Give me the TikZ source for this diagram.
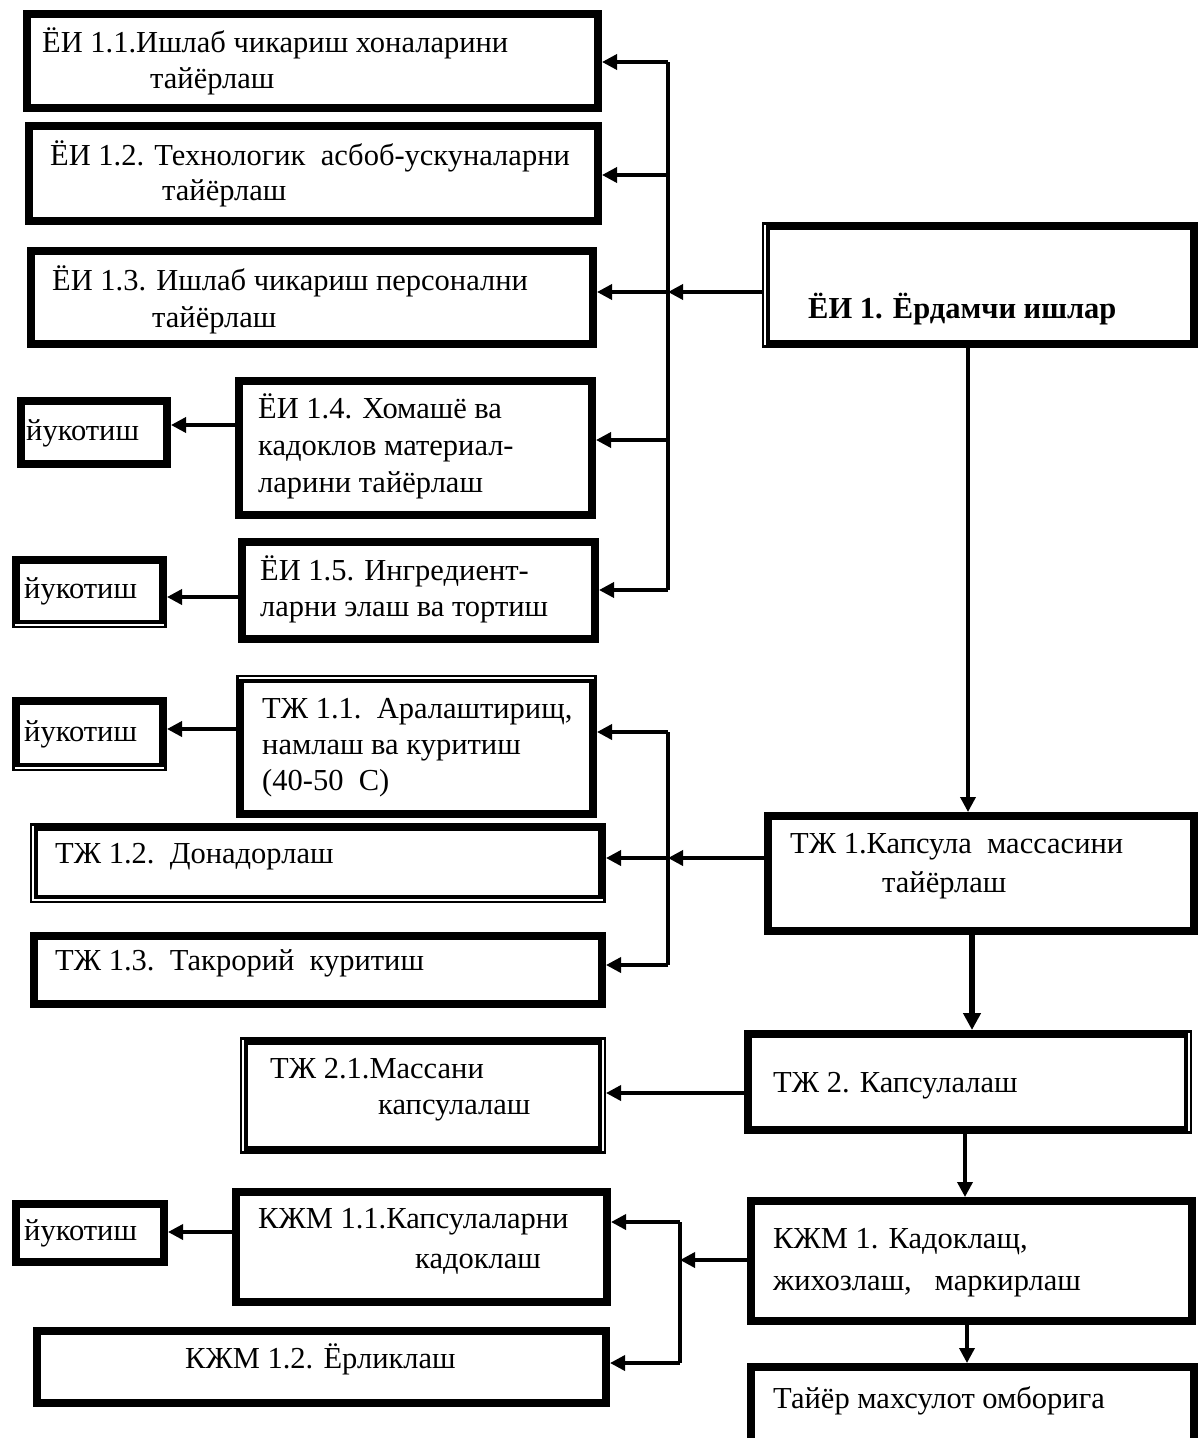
\documentclass[tikz,border=0pt]{standalone}
\usepackage{fontspec}
\setmainfont{Liberation Serif}
\usetikzlibrary{arrows.meta}
\tikzset{
  x=1pt,y=-1pt,
  bx/.style={draw, line width=#1, inner sep=0pt, rectangle},
  txt/.style={anchor=base west, inner sep=0pt, font=\fontsize{30.5}{36}\selectfont},
  btxt/.style={txt, font=\fontsize{30.5}{36}\selectfont\bfseries},
  conn/.style={line width=3.5pt},
  arr/.style={line width=3.5pt, -{Triangle[length=15pt,width=15pt]}},
  tarr/.style={line width=6pt, -{Triangle[length=17pt,width=17pt]}},
  dbl/.style={draw=white, line width=1.5pt},
}
\newcommand\bxx[6][8]{\node[bx=#1pt, minimum width={#4-#2-#1}, minimum height={#5-#3-#1}] (#6) at ({(#2+#4)/2},{(#3+#5)/2}) {};}
\begin{document}
\begin{tikzpicture}
\useasboundingbox[fill=white] (0,0) rectangle (1198,1438);
% boxes
\bxx{23}{10}{602}{112}{b11}
\bxx{25}{122}{602}{225}{b12}
\bxx{27}{247}{597}{348}{b13}
\bxx{762}{222}{1198}{348}{b1}
\bxx{235}{377}{596}{519}{b14}
\bxx{17}{397}{171}{468}{y1}
\bxx{238}{538}{599}{643}{b15}
\bxx{12}{556}{167}{628}{y2}
\bxx{236}{675}{597}{818}{t11}
\bxx{12}{697}{167}{771}{y3}
\bxx{30}{823}{606}{903}{t12}
\bxx{30}{932}{606}{1008}{t13}
\bxx{764}{812}{1198}{935}{t1}
\bxx{744}{1030}{1192}{1134}{t2}
\bxx{240}{1037}{606}{1154}{t21}
\bxx{747}{1197}{1196}{1325}{k1}
\bxx{232}{1188}{611}{1306}{k11}
\bxx{12}{1200}{168}{1266}{y4}
\bxx{33}{1327}{610}{1407}{k12}
\bxx{747}{1363}{1198}{1448}{tm}
% double-rule edges
\draw[dbl] ([xshift=3pt,yshift=-3pt]b1.north west) -- ([xshift=3pt,yshift=3pt]b1.south west);
\draw[dbl] ([xshift=3pt,yshift=-3pt]t12.north west) -- ([xshift=3pt,yshift=3pt]t12.south west) -- ([xshift=-3pt,yshift=3pt]t12.south east);
\draw[dbl] ([xshift=3pt,yshift=-3pt]t21.north west) -- ([xshift=3pt,yshift=3pt]t21.south west);
\draw[dbl] ([xshift=-3pt,yshift=-3pt]t21.north east) -- ([xshift=-3pt,yshift=3pt]t21.south east);
\draw[dbl] ([xshift=-3pt,yshift=-3pt]t2.north east) -- ([xshift=-3pt,yshift=3pt]t2.south east);
\draw[dbl] ([xshift=3pt,yshift=-3pt]t11.north west) -- ([xshift=-3pt,yshift=-3pt]t11.north east);
\draw[dbl] ([xshift=3pt,yshift=3pt]y2.south west) -- ([xshift=-3pt,yshift=3pt]y2.south east);
\draw[dbl] ([xshift=3pt,yshift=3pt]y3.south west) -- ([xshift=-3pt,yshift=3pt]y3.south east);
% texts
\node[txt] (x11a) at (42,52) {ЁИ 1.1.Ишлаб чикариш хоналарини};
\node[txt] (x11b) at (150,88) {тайёрлаш};
\node[txt] (x12a) at (50,165) {ЁИ 1.2. Технологик\ \ асбоб-ускуналарни};
\node[txt] (x12b) at (162,200) {тайёрлаш};
\node[txt] (x13a) at (52,290) {ЁИ 1.3. Ишлаб чикариш персонални};
\node[txt] (x13b) at (152,327) {тайёрлаш};
\node[btxt] (x1) at (808,318) {ЁИ 1. Ёрдамчи ишлар};
\node[txt] (x14a) at (258,418) {ЁИ 1.4. Хомашё ва};
\node[txt] (x14b) at (258,455) {кадоклов материал-};
\node[txt] (x14c) at (258,492) {ларини тайёрлаш};
\node[txt] (xy1) at (26,440) {йукотиш};
\node[txt] (x15a) at (260,580) {ЁИ 1.5. Ингредиент-};
\node[txt] (x15b) at (260,616) {ларни элаш ва тортиш};
\node[txt] (xy2) at (24,598) {йукотиш};
\node[txt] (xt11a) at (262,718) {ТЖ 1.1.\ \ Аралаштирищ,};
\node[txt] (xt11b) at (262,754) {намлаш ва куритиш};
\node[txt] (xt11c) at (262,790) {(40-50\ \ С)};
\node[txt] (xy3) at (24,741) {йукотиш};
\node[txt] (xt12) at (55,863) {ТЖ 1.2.\ \ Донадорлаш};
\node[txt] (xt13) at (55,970) {ТЖ 1.3.\ \ Такрорий\ \ куритиш};
\node[txt] (xt1a) at (790,853) {ТЖ 1.Капсула\ \ массасини};
\node[txt] (xt1b) at (882,892) {тайёрлаш};
\node[txt] (xt2) at (773,1092) {ТЖ 2. Капсулалаш};
\node[txt] (xt21a) at (270,1078) {ТЖ 2.1.Массани};
\node[txt] (xt21b) at (378,1114) {капсулалаш};
\node[txt] (xk1a) at (773,1248) {КЖМ 1. Кадоклащ,};
\node[txt] (xk1b) at (773,1290) {жихозлаш,\ \ \ маркирлаш};
\node[txt] (xk11a) at (258,1228) {КЖМ 1.1.Капсулаларни};
\node[txt] (xk11b) at (415,1268) {кадоклаш};
\node[txt] (xy4) at (24,1240) {йукотиш};
\node[txt] (xk12) at (185,1368) {КЖМ 1.2. Ёрликлаш};
\node[txt] (xtm) at (773,1408) {Тайёр махсулот омборига};
% bus 1
\coordinate (h1) at (668,62);
\coordinate (h2) at (668,175);
\coordinate (h3) at (668,292);
\coordinate (h4) at (668,440);
\coordinate (h5) at (668,590);
\draw[conn] (h1) -- (h5);
\draw[arr] (h1) -- (h1 -| b11.east);
\draw[arr] (h2) -- (h2 -| b12.east);
\draw[arr] (h3) -- (h3 -| b13.east);
\draw[arr] (h4) -- (h4 -| b14.east);
\draw[arr] (h5) -- (h5 -| b15.east);
\draw[arr] (h3 -| b1.west) -- (h3);
\draw[arr] (b1.south -| 968,0) -- (t1.north -| 968,0);
% bus 2
\coordinate (g1) at (668,732);
\coordinate (g2) at (668,858);
\coordinate (g3) at (668,965);
\draw[conn] (g1) -- (g3);
\draw[arr] (g1) -- (g1 -| t11.east);
\draw[arr] (g2) -- (g2 -| t12.east);
\draw[arr] (g3) -- (g3 -| t13.east);
\draw[arr] (g2 -| t1.west) -- (g2);
\draw[tarr] (t1.south -| 972,0) -- (t2.north -| 972,0);
\draw[arr] (t2.west |- 0,1093) -- (t21.east |- 0,1093);
\draw[arr] (t2.south -| 965,0) -- (k1.north -| 965,0);
% bus 3
\coordinate (f0) at (680,1260);
\coordinate (f1) at (680,1222);
\coordinate (f2) at (680,1363);
\draw[conn] (f1) -- (f2);
\draw[arr] (f1) -- (f1 -| k11.east);
\draw[arr] (f2) -- (f2 -| k12.east);
\draw[arr] (f0 -| k1.west) -- (f0);
\draw[arr] (k1.south -| 967,0) -- (tm.north -| 967,0);
% losses
\draw[arr] (b14.west |- 0,425) -- (y1.east |- 0,425);
\draw[arr] (b15.west |- 0,597) -- (y2.east |- 0,597);
\draw[arr] (t11.west |- 0,729) -- (y3.east |- 0,729);
\draw[arr] (k11.west |- 0,1232) -- (y4.east |- 0,1232);
\end{tikzpicture}
\end{document}
